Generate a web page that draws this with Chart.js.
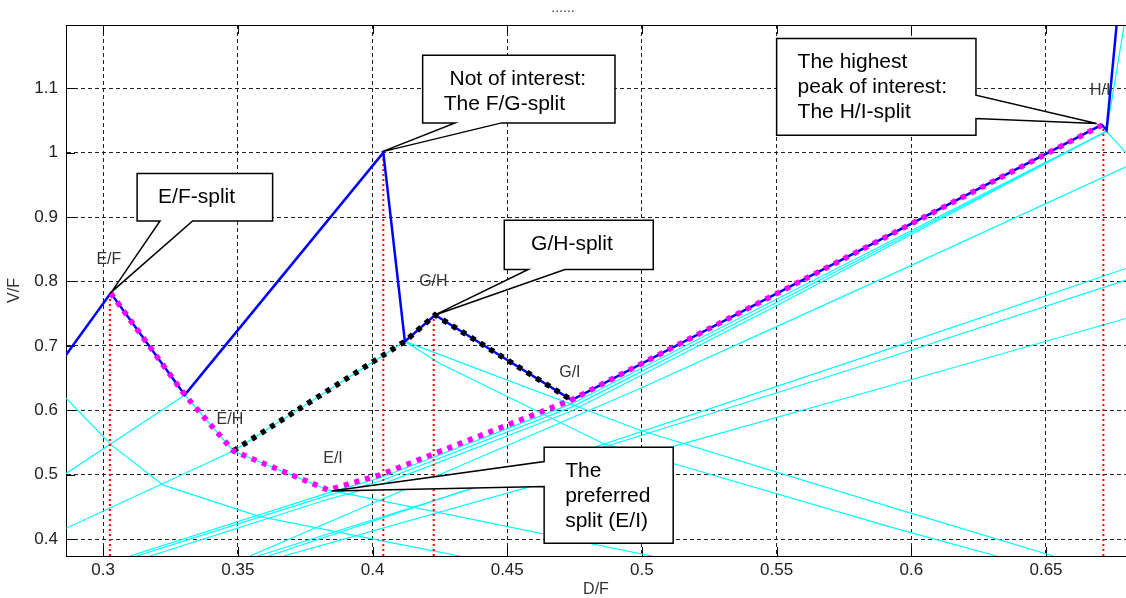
<!DOCTYPE html>
<html lang="en">
<head>
<meta charset="UTF-8">
<title>Vmin diagram</title>
<script src="https://cdn.jsdelivr.net/npm/chart.js"></script>
<style>
  html, body { margin: 0; padding: 0; background: #fff; }
</style>
</head>
<body>
<canvas id="vminChart" width="1126" height="598"></canvas>
<script>
// axis ranges and ticks
const xRange = [0.2862, 0.6797];
const yRange = [0.374, 1.198];
const xTicks = [0.3, 0.35, 0.4, 0.45, 0.5, 0.55, 0.6, 0.65];
const yTicks = [0.4, 0.5, 0.6, 0.7, 0.8, 0.9, 1.0, 1.1];

// blue envelope (max of all lines)
const envelopeX = [0.2862, 0.3028, 0.3303, 0.4040, 0.4120, 0.4232, 0.4739, 0.5512, 0.6707, 0.6725, 0.6774];
const envelopeY = [0.686, 0.782, 0.624, 1.000, 0.707, 0.748, 0.616, 0.784, 1.043, 1.035, 1.250];

// magenta dotted: preferred path E/F -> E/I -> H/I
const preferredX = [0.3028, 0.3303, 0.3483, 0.3835, 0.4027, 0.4739, 0.5512, 0.6707];
const preferredY = [0.782, 0.624, 0.537, 0.4765, 0.4998, 0.6162, 0.7838, 1.0426];

// black dotted: E/H -> G/H -> G/I
const altX = [0.3483, 0.4120, 0.4232, 0.4739];
const altY = [0.537, 0.707, 0.748, 0.616];

// red dotted verticals at the peaks
const peakX = [0.3025, 0.4040, 0.4227, 0.6713];
const peakY = [0.782, 1.000, 0.748, 1.040];

// thin cyan lines
const cyanX = [
  [0.2862, 0.3031, 0.3223, 0.3582, 0.4102, 0.4324],
  [0.2862, 0.3303],
  [0.2862, 0.3483, 0.4120],
  [0.3028, 0.3303, 0.3483, 0.3835, 0.5037],
  [0.4120, 0.4993, 0.5921, 0.6527],
  [0.4120, 0.4250, 0.4856, 0.5116, 0.5921, 0.6317],
  [0.3099, 0.3835, 0.4027, 0.4739, 0.5512, 0.6725],
  [0.3124, 0.3835, 0.4027, 0.4739, 0.5512, 0.6725],
  [0.3174, 0.3835, 0.4027, 0.4739, 0.5512, 0.6725],
  [0.6725, 0.6795],
  [0.6725, 0.6900],
  [0.3545, 0.4993, 0.5512, 0.5921, 0.6797],
  [0.3614, 0.5884, 0.6797],
  [0.3574, 0.5884, 0.6797],
  [0.3670, 0.5153, 0.5884, 0.6797]
];
const cyanY = [
  [0.619, 0.546, 0.484, 0.435, 0.392, 0.374],
  [0.502, 0.624],
  [0.417, 0.537, 0.707],
  [0.782, 0.624, 0.537, 0.4765, 0.374],
  [0.707, 0.5692, 0.4502, 0.374],
  [0.707, 0.6727, 0.5485, 0.5175, 0.4191, 0.374],
  [0.374, 0.472, 0.495, 0.610, 0.775, 1.033],
  [0.374, 0.468, 0.490, 0.605, 0.770, 1.033],
  [0.374, 0.462, 0.484, 0.599, 0.765, 1.033],
  [1.033, 1.210],
  [1.033, 0.952],
  [0.374, 0.6339, 0.7323, 0.8098, 0.9779],
  [0.374, 0.6907, 0.8202],
  [0.374, 0.6778, 0.8020],
  [0.374, 0.5485, 0.6339, 0.7426]
];

// split labels
const splitLabels = ['E/F', 'E/H', 'E/I', 'G/H', 'G/I', 'H/I'];
const splitLabelX = [0.2975, 0.3421, 0.3817, 0.4173, 0.4693, 0.6663];
const splitLabelY = [0.8341, 0.5852, 0.5257, 0.7994, 0.6592, 1.0969];

// callouts: box [x0, yTop, x1, yBottom], side of the pointer, pointer base, tip
const calloutText = [
  ['E/F-split'],
  [' Not of interest:', 'The F/G-split'],
  [' G/H-split'],
  ['The highest', 'peak of interest:', 'The H/I-split'],
  ['The', 'preferred', 'split (E/I)']
];
const calloutBox = [
  [0.3126, 0.9676, 0.3629, 0.8940],
  [0.4186, 1.1512, 0.4900, 1.0461],
  [0.4489, 0.8951, 0.5042, 0.8186],
  [0.5500, 1.1771, 0.6240, 1.0271],
  [0.4637, 0.5428, 0.5116, 0.3938]
];
const calloutSide = ['bottom', 'bottom', 'bottom', 'right', 'left'];
const calloutBase = [
  [0.3211, 0.3332],
  [0.4306, 0.4479],
  [0.4578, 0.4714],
  [1.0891, 1.0530],
  [0.5206, 0.4818]
];
const calloutTip = [
  [0.3031, 0.7838],
  [0.4034, 1.0011],
  [0.4232, 0.7481],
  [0.6688, 1.0452],
  [0.3848, 0.4750]
];

const FONT = '"Liberation Sans", Arial, sans-serif';

function line(label, xs, ys, color, width, dash, order) {
  return {
    label: label,
    data: xs.map((x, i) => ({ x: x, y: ys[i] })),
    borderColor: color,
    backgroundColor: color,
    borderWidth: width,
    borderDash: dash,
    showLine: true,
    pointRadius: 0,
    pointHoverRadius: 0,
    fill: false,
    tension: 0,
    clip: 0,
    order: order
  };
}

const datasets = [];
datasets.push(line('preferred', preferredX, preferredY, '#ff00ff', 5.5, [5, 6], 0));
datasets.push(line('alternative', altX, altY, '#000000', 5.5, [5, 6], 1));
datasets.push(line('envelope', envelopeX, envelopeY, '#0000ff', 2.5, [], 2));
peakX.forEach((x, i) => {
  datasets.push(line('peak ' + i, [x, x], [yRange[0], peakY[i]], '#ff0000', 2, [2, 3], 3));
});
cyanX.forEach((xs, i) => {
  datasets.push(line('line ' + i, xs, cyanY[i], '#00ffff', 1.2, [], 4));
});

const annotations = {
  id: 'annotations',
  beforeDatasetsDraw(chart) {
    const { ctx, chartArea: a, scales: { x, y } } = chart;
    ctx.save();
    // inside tick marks
    ctx.strokeStyle = '#000';
    ctx.lineWidth = 1;
    ctx.beginPath();
    xTicks.forEach(v => {
      const px = Math.round(x.getPixelForValue(v)) + 0.5;
      ctx.moveTo(px, a.bottom); ctx.lineTo(px, a.bottom - 9);
      ctx.moveTo(px, a.top); ctx.lineTo(px, a.top + 9);
    });
    yTicks.forEach(v => {
      const py = Math.round(y.getPixelForValue(v)) + 0.5;
      ctx.moveTo(a.left, py); ctx.lineTo(a.left + 9, py);
    });
    ctx.stroke();
    // split labels
    ctx.fillStyle = '#333';
    ctx.font = '16px ' + FONT;
    ctx.textAlign = 'left';
    ctx.textBaseline = 'middle';
    splitLabels.forEach((t, i) => {
      ctx.fillText(t, x.getPixelForValue(splitLabelX[i]), y.getPixelForValue(splitLabelY[i]));
    });
    ctx.restore();
  },
  afterDatasetsDraw(chart) {
    const { ctx, scales: { x, y } } = chart;
    ctx.save();
    ctx.lineWidth = 1.5;
    ctx.strokeStyle = '#000';
    ctx.lineJoin = 'miter';
    calloutBox.forEach((b, i) => {
      const l = x.getPixelForValue(b[0]), t = y.getPixelForValue(b[1]);
      const r = x.getPixelForValue(b[2]), btm = y.getPixelForValue(b[3]);
      const tx = x.getPixelForValue(calloutTip[i][0]), ty = y.getPixelForValue(calloutTip[i][1]);
      const side = calloutSide[i];
      ctx.beginPath();
      if (side === 'bottom') {
        const b0 = x.getPixelForValue(calloutBase[i][0]), b1 = x.getPixelForValue(calloutBase[i][1]);
        ctx.moveTo(l, t); ctx.lineTo(r, t); ctx.lineTo(r, btm);
        ctx.lineTo(b1, btm); ctx.lineTo(tx, ty); ctx.lineTo(b0, btm);
        ctx.lineTo(l, btm);
      } else if (side === 'right') {
        const b0 = y.getPixelForValue(calloutBase[i][0]), b1 = y.getPixelForValue(calloutBase[i][1]);
        ctx.moveTo(l, t); ctx.lineTo(r, t); ctx.lineTo(r, b0);
        ctx.lineTo(tx, ty); ctx.lineTo(r, b1); ctx.lineTo(r, btm);
        ctx.lineTo(l, btm);
      } else {
        const b0 = y.getPixelForValue(calloutBase[i][0]), b1 = y.getPixelForValue(calloutBase[i][1]);
        ctx.moveTo(l, t); ctx.lineTo(r, t); ctx.lineTo(r, btm);
        ctx.lineTo(l, btm); ctx.lineTo(l, b1); ctx.lineTo(tx, ty);
        ctx.lineTo(l, b0);
      }
      ctx.closePath();
      ctx.fillStyle = '#fff';
      ctx.fill();
      ctx.stroke();
      ctx.fillStyle = '#000';
      ctx.font = '21px ' + FONT;
      ctx.textAlign = 'left';
      ctx.textBaseline = 'alphabetic';
      calloutText[i].forEach((txt, k) => {
        ctx.fillText(txt, l + 21, t + 30 + 25 * k);
      });
    });
    ctx.restore();
  },
  afterDraw(chart) {
    const { ctx, chartArea: a } = chart;
    ctx.save();
    // top box line
    ctx.strokeStyle = '#000';
    ctx.lineWidth = 1;
    ctx.beginPath();
    ctx.moveTo(a.left, Math.round(a.top) + 0.5);
    ctx.lineTo(a.right, Math.round(a.top) + 0.5);
    ctx.stroke();
    // title
    ctx.fillStyle = '#333';
    ctx.font = '14px ' + FONT;
    ctx.textAlign = 'center';
    ctx.textBaseline = 'alphabetic';
    ctx.fillText('......', chart.width / 2, 12);
    ctx.restore();
  }
};

new Chart(document.getElementById('vminChart'), {
  type: 'scatter',
  data: { datasets: datasets },
  plugins: [annotations],
  options: {
    responsive: false,
    devicePixelRatio: 1,
    animation: false,
    layout: { padding: { top: 25, right: 0, left: 0, bottom: 0 } },
    plugins: {
      legend: { display: false },
      tooltip: { enabled: false },
      title: { display: false }
    },
    scales: {
      x: {
        type: 'linear',
        min: xRange[0],
        max: xRange[1],
        afterBuildTicks: s => { s.ticks = xTicks.map(v => ({ value: v })); },
        afterFit: s => { s.height = 42; },
        ticks: {
          callback: v => String(+v.toFixed(2)),
          color: '#222',
          font: { size: 17, family: FONT },
          padding: 4,
          autoSkip: false,
          maxRotation: 0
        },
        grid: { color: '#222', lineWidth: 1, drawTicks: false },
        border: { display: true, color: '#000', width: 1, dash: [4, 3] },
        title: {
          display: true,
          text: 'D/F',
          color: '#333',
          font: { size: 16, family: FONT, lineHeight: 1 },
          padding: { top: 0, bottom: 0 }
        }
      },
      y: {
        type: 'linear',
        min: yRange[0],
        max: yRange[1],
        afterBuildTicks: s => { s.ticks = yTicks.map(v => ({ value: v })); },
        afterFit: s => { s.width = 66; },
        ticks: {
          callback: v => String(+v.toFixed(2)),
          color: '#222',
          font: { size: 17, family: FONT },
          padding: 8
        },
        grid: { color: '#222', lineWidth: 1, drawTicks: false },
        border: { display: true, color: '#000', width: 1, dash: [4, 3] },
        title: {
          display: true,
          text: 'V/F',
          color: '#333',
          font: { size: 16, family: FONT, lineHeight: 1 },
          padding: { top: 7, bottom: 0 }
        }
      }
    }
  }
});
</script>
</body>
</html>
